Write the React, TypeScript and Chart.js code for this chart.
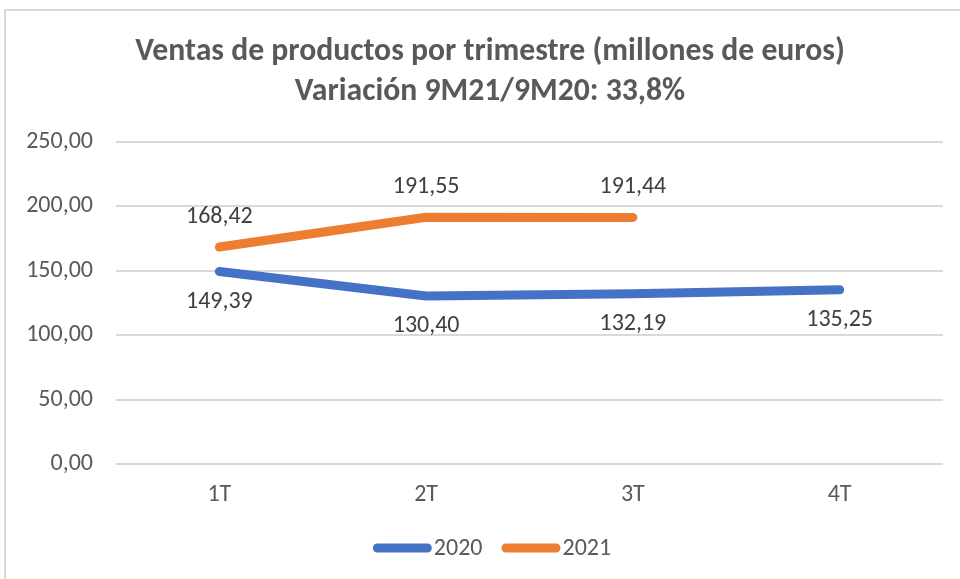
import React, { useEffect, useRef } from "react";
import { Chart, registerables } from "chart.js";

Chart.register(...registerables);

const categories = ["1T", "2T", "3T", "4T"];
const values2020 = [149.39, 130.4, 132.19, 135.25];
const values2021: (number | null)[] = [168.42, 191.55, 191.44, null];
const seriesNames = ["2020", "2021"];
const titleLines = [
  "Ventas de productos por trimestre (millones de euros)",
  "Variación 9M21/9M20: 33,8%",
];

const FONT = "Carlito, Calibri, 'Liberation Sans Narrow', 'Liberation Sans', sans-serif";
const fmt = (v: number) => v.toFixed(2).replace(".", ",");
const CENTER_X = 490;

const frame = {
  id: "frame",
  beforeDraw(chart: any) {
    const ctx = chart.ctx;
    ctx.save();
    ctx.fillStyle = "#ffffff";
    ctx.fillRect(0, 0, chart.width, chart.height);
    ctx.strokeStyle = "#d9d9d9";
    ctx.lineWidth = 2;
    ctx.strokeRect(5, 10, chart.width + 50, chart.height + 50);
    ctx.restore();
  },
};

const titleDraw = {
  id: "titleDraw",
  afterDraw(chart: any) {
    const ctx = chart.ctx;
    ctx.save();
    ctx.font = `bold 31.7px ${FONT}`;
    ctx.fillStyle = "#595959";
    ctx.textAlign = "center";
    ctx.textBaseline = "middle";
    titleLines.forEach((t, i) => ctx.fillText(t, CENTER_X, 52 + i * 40));
    ctx.restore();
  },
};

const dataLabels = {
  id: "dataLabels",
  afterDatasetsDraw(chart: any) {
    const ctx = chart.ctx;
    ctx.save();
    ctx.font = `24px ${FONT}`;
    ctx.fillStyle = "#404040";
    ctx.textAlign = "center";
    ctx.textBaseline = "middle";
    chart.data.datasets.forEach((ds: any, i: number) => {
      const meta = chart.getDatasetMeta(i);
      meta.data.forEach((pt: any, j: number) => {
        const v = ds.data[j];
        if (v == null) return;
        const dy = i === 0 ? 30 : -30;
        ctx.fillText(fmt(v), pt.x, pt.y + dy);
      });
    });
    ctx.restore();
  },
};

const lineLegend = {
  id: "lineLegend",
  afterDraw(chart: any) {
    const ctx = chart.ctx;
    ctx.save();
    ctx.font = `24px ${FONT}`;
    ctx.textBaseline = "middle";
    ctx.textAlign = "left";
    const lineLen = 50;
    const cap = 4.5;
    const gapText = 2;
    const gapItem = 19;
    const items = chart.data.datasets.map((ds: any) => ({
      label: ds.label,
      color: ds.borderColor,
      w: ctx.measureText(ds.label).width,
    }));
    let total = 0;
    items.forEach((it: any, i: number) => {
      total += lineLen + cap * 2 + gapText + it.w + (i < items.length - 1 ? gapItem : 0);
    });
    let x = CENTER_X + 2 - total / 2;
    const y = chart.height - 31;
    items.forEach((it: any) => {
      ctx.strokeStyle = it.color;
      ctx.lineWidth = 9;
      ctx.lineCap = "round";
      ctx.beginPath();
      ctx.moveTo(x + cap, y);
      ctx.lineTo(x + cap + lineLen, y);
      ctx.stroke();
      x += lineLen + cap * 2 + gapText;
      ctx.fillStyle = "#595959";
      ctx.fillText(it.label, x, y + 1);
      x += it.w + gapItem;
    });
    ctx.restore();
  },
};

export default function App() {
  const ref = useRef<HTMLCanvasElement>(null);
  useEffect(() => {
    const chart = new Chart(ref.current!, {
      type: "line",
      data: {
        labels: categories,
        datasets: [
          {
            label: seriesNames[0],
            data: values2020,
            borderColor: "#4472C4",
            backgroundColor: "#4472C4",
            borderWidth: 9,
            borderCapStyle: "round",
            borderJoinStyle: "round",
            pointRadius: 0,
          },
          {
            label: seriesNames[1],
            data: values2021,
            borderColor: "#ED7D31",
            backgroundColor: "#ED7D31",
            borderWidth: 9,
            borderCapStyle: "round",
            borderJoinStyle: "round",
            pointRadius: 0,
          },
        ],
      },
      options: {
        animation: false,
        responsive: false,
        layout: { padding: { left: 0, right: 17, top: 142, bottom: 70 } },
        scales: {
          x: {
            offset: true,
            grid: { display: false },
            border: { display: false },
            ticks: { color: "#595959", font: { family: FONT, size: 24 }, padding: 9 },
            afterFit: (s: any) => {
              s.height = 45;
            },
          },
          y: {
            min: 0,
            max: 250,
            ticks: {
              stepSize: 50,
              color: "#595959",
              font: { family: FONT, size: 24 },
              padding: 23,
              callback: (v: any) => fmt(Number(v)),
            },
            grid: { color: "#d9d9d9", lineWidth: 2, tickLength: 0, drawTicks: false },
            border: { display: false },
            afterFit: (s: any) => {
              s.width = 116;
            },
          },
        },
        plugins: {
          title: { display: false },
          legend: { display: false },
          tooltip: { enabled: false },
        },
      },
      plugins: [frame, dataLabels, lineLegend, titleDraw],
    });
    return () => chart.destroy();
  }, []);
  return (
    <div style={{ position: "absolute", left: 0, top: 0, width: 960, height: 579 }}>
      <canvas ref={ref} width={960} height={579} />
    </div>
  );
}
